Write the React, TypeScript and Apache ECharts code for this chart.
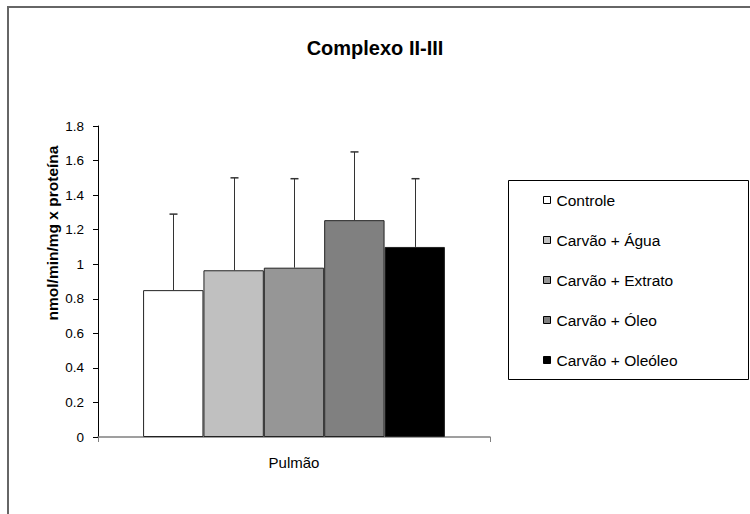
import React, { useEffect, useRef } from "react";
import * as echarts from "echarts";

const categories = ["Pulmão"];
const seriesNames = ["Controle", "Carvão + Água", "Carvão + Extrato", "Carvão + Óleo", "Carvão + Oleóleo"];
const barValues = [0.85, 0.965, 0.98, 1.255, 1.1];
const errorTops = [1.29, 1.5, 1.495, 1.65, 1.495];
const barColors = ["#ffffff", "#c0c0c0", "#969696", "#808080", "#000000"];
const yTicks = { min: 0, max: 1.8, interval: 0.2 };
const titleText = "Complexo II-III";
const yAxisName = "nmol/min/mg x proteína";

const FONT = '"Liberation Sans", Arial, sans-serif';
const CAT_GAP = 0.23;

export default function App() {
  const ref = useRef<HTMLDivElement>(null);
  useEffect(() => {
    if (!ref.current) return;
    const chart = echarts.init(ref.current, undefined, { renderer: "svg" });
    const n = seriesNames.length;
    const bars = seriesNames.map((name, i) => ({
      name,
      type: "bar",
      data: [barValues[i]],
      barGap: "0%",
      barCategoryGap: CAT_GAP * 100 + "%",
      itemStyle: { color: barColors[i], borderColor: "#222", borderWidth: 1 },
      emphasis: { disabled: true },
      z: 2,
    }));
    const errSeries = {
      type: "custom",
      name: "err",
      z: 5,
      encode: { x: 0, y: 2 },
      data: seriesNames.map((_, i) => [0, i, barValues[i], errorTops[i]]),
      renderItem: (params: any, api: any) => {
        const cat = api.value(0);
        const si = api.value(1);
        const v = api.value(2);
        const e = api.value(3);
        const base = api.coord([cat, v]);
        const top = api.coord([cat, e]);
        const band = api.size([1, 0])[0];
        const bw = (band * (1 - CAT_GAP)) / n;
        const x = Math.round(base[0] + (si - (n - 1) / 2) * bw) + 0.5;
        const style = { stroke: "#333", lineWidth: 1 };
        return {
          type: "group",
          children: [
            { type: "line", shape: { x1: x, y1: base[1], x2: x, y2: top[1] }, style },
            { type: "line", shape: { x1: x - 4, y1: top[1], x2: x + 4, y2: top[1] }, style: { stroke: "#333", lineWidth: 1.5 } },
          ],
        };
      },
    };
    chart.setOption({
      animation: false,
      backgroundColor: "#fff",
      title: {
        text: titleText,
        left: "center",
        top: 33,
        textStyle: { fontFamily: FONT, fontSize: 20, fontWeight: "bold", color: "#000" },
      },
      grid: { left: 98, right: 260, top: 126, bottom: 77, containLabel: false },
      legend: {
        data: seriesNames,
        orient: "vertical",
        left: 543,
        top: 191,
        padding: 0,
        itemGap: 22,
        itemWidth: 7,
        itemHeight: 7,
        icon: "rect",
        selectedMode: false,
        itemStyle: { borderColor: "#000", borderWidth: 1 },
        textStyle: { fontFamily: FONT, fontSize: 15.5, color: "#000", lineHeight: 18, padding: [0, 0, 0, 1] },
      },
      xAxis: {
        type: "category",
        data: categories,
        axisLine: { lineStyle: { color: "#808080", width: 1.5 } },
        axisTick: { show: true, length: 5, lineStyle: { color: "#808080" } },
        axisLabel: { fontFamily: FONT, fontSize: 15, color: "#000", margin: 18 },
      },
      yAxis: {
        type: "value",
        min: yTicks.min,
        max: yTicks.max,
        interval: yTicks.interval,
        axisLine: { show: true, lineStyle: { color: "#000", width: 1 } },
        axisTick: { show: true, length: 5, lineStyle: { color: "#000" } },
        splitLine: { show: false },
        axisLabel: {
          fontFamily: FONT,
          fontSize: 13.5,
          color: "#000",
          margin: 14,
          formatter: (v: number) => String(Math.round(v * 10) / 10),
        },
      },
      graphic: [
        {
          type: "rect",
          shape: { x: 8, y: 7, width: 800, height: 600 },
          style: { fill: "none", stroke: "#666", lineWidth: 2 },
          silent: true,
        },
        {
          type: "rect",
          shape: { x: 508.5, y: 180.5, width: 240, height: 199 },
          style: { fill: "none", stroke: "#000", lineWidth: 1 },
          silent: true,
        },
        {
          type: "text",
          x: 52,
          y: 233,
          rotation: Math.PI / 2,
          style: {
            text: yAxisName,
            font: `bold 15.5px ${FONT}`,
            fill: "#000",
            textAlign: "center",
            textVerticalAlign: "middle",
          },
          silent: true,
        },
      ],
      series: [...bars, errSeries],
    });
    return () => chart.dispose();
  }, []);
  return (
    <div
      ref={ref}
      style={{ position: "absolute", left: 0, top: 0, width: 750, height: 514 }}
    />
  );
}
